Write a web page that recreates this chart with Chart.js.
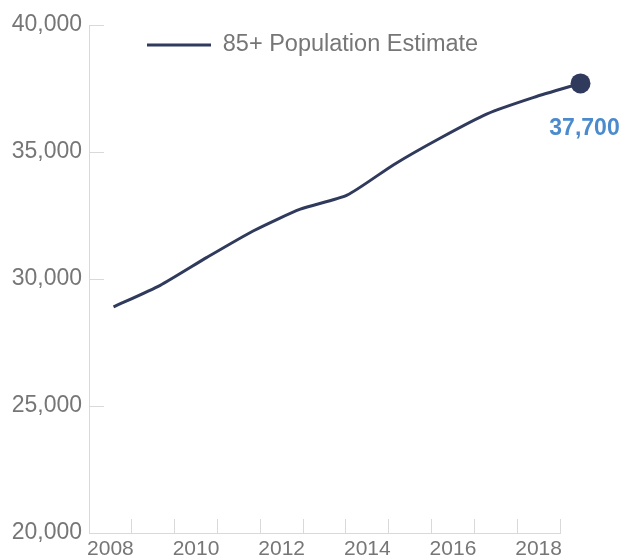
<!DOCTYPE html>
<html lang="en">
<head>
  <meta charset="UTF-8">
  <title>85+ Population Estimate</title>
  <script src="https://cdn.jsdelivr.net/npm/chart.js"></script>
  <style>
    body {
      margin: 0;
      padding: 0;
      background: #fff;
    }
    .wrap {
      width: 623px;
      height: 559px;
      position: relative;
    }
  </style>
</head>
<body>
  <div class="wrap">
    <canvas id="pop-chart"></canvas>
  </div>

  <script>
    // Axis labels (one category per year)
    const yearLabels = ['2008', '2009', '2010', '2011', '2012', '2013', '2014', '2015', '2016', '2017', '2018'];
    // Years of the estimates
    const pointYears = [2008, 2009, 2010, 2011, 2012, 2013, 2014, 2015, 2016, 2017, 2018];
    // 85+ population estimates
    const popValues = [28900, 29750, 30850, 31900, 32750, 33300, 34500, 35550, 36500, 37150, 37700];
    const yTicks = [20000, 25000, 30000, 35000, 40000];

    const navy = '#2f3a5c';
    const axisGray = '#d9d9d9';
    const textGray = '#767676';
    const lastIdx = popValues.length - 1;

    Chart.defaults.font.family = '"Liberation Sans", Arial, sans-serif';

    // legend sits inside the plot, near the top left
    const legendPlace = {
      id: 'legendPlace',
      afterLayout(chart) {
        const lg = chart.legend;
        const w = lg.width, h = lg.height;
        lg.left = 137;
        lg.top = 23.25;
        lg.right = lg.left + w;
        lg.bottom = lg.top + h;
      }
    };

    // value label under the last point
    const lastLabel = {
      id: 'lastLabel',
      afterDatasetsDraw(chart) {
        const pt = chart.getDatasetMeta(0).data[lastIdx];
        const ctx = chart.ctx;
        ctx.save();
        ctx.font = 'bold 23px "Liberation Sans", Arial, sans-serif';
        ctx.fillStyle = '#4a8acd';
        ctx.textAlign = 'center';
        ctx.textBaseline = 'middle';
        ctx.fillText(popValues[lastIdx].toLocaleString('en-US'), pt.x + 4, pt.y + 45);
        ctx.restore();
      }
    };

    new Chart(document.getElementById('pop-chart'), {
      type: 'line',
      data: {
        labels: yearLabels,
        datasets: [{
          label: '85+ Population Estimate',
          data: pointYears.map((yr, i) => ({ x: yr, y: popValues[i] })),
          xAxisID: 'xl',
          borderColor: navy,
          backgroundColor: navy,
          borderWidth: 3,
          tension: 0.2,
          clip: false,
          pointRadius: ctx => ctx.dataIndex === lastIdx ? 10 : 0,
          pointBackgroundColor: navy,
          // wide transparent border so the end marker still draws past the right edge
          pointBorderWidth: ctx => ctx.dataIndex === lastIdx ? 12 : 0,
          pointBorderColor: 'rgba(0,0,0,0)'
        }]
      },
      options: {
        responsive: true,
        maintainAspectRatio: false,
        animation: false,
        events: [],
        layout: {
          autoPadding: false,
          padding: { top: 25, right: 63, bottom: 0, left: 0 }
        },
        plugins: {
          legend: {
            position: 'chartArea',
            align: 'start',
            labels: {
              boxWidth: 64,
              boxHeight: 3,
              padding: 10,
              color: textGray,
              font: { size: 23.5 },
              generateLabels: chart => Chart.defaults.plugins.legend.labels.generateLabels(chart)
                .map(item => Object.assign(item, { lineWidth: 0, fillStyle: navy }))
            }
          },
          tooltip: { enabled: false }
        },
        scales: {
          x: {
            type: 'category',
            position: 'bottom',
            offset: true,
            grid: {
              offset: true,
              drawOnChartArea: false,
              tickLength: -14,
              color: axisGray
            },
            border: { color: axisGray },
            ticks: {
              autoSkip: false,
              maxRotation: 0,
              padding: 18,
              color: textGray,
              font: { size: 21 },
              callback: (val, i) => i % 2 === 0 ? yearLabels[i] : ''
            },
            afterFit: s => { s.height = 26; s.paddingLeft = 0; s.paddingRight = 0; }
          },
          xl: {
            type: 'linear',
            display: false,
            min: 2007.475,
            max: 2017.561
          },
          y: {
            min: yTicks[0],
            max: yTicks[yTicks.length - 1],
            afterBuildTicks: s => { s.ticks = yTicks.map(v => ({ value: v })); },
            grid: {
              drawOnChartArea: false,
              tickLength: -15,
              color: axisGray
            },
            border: { color: axisGray },
            ticks: {
              padding: 22,
              color: textGray,
              font: { size: 23 },
              callback: v => v.toLocaleString('en-US')
            },
            afterFit: s => { s.width = 89; s.paddingTop = 0; s.paddingBottom = 0; }
          }
        }
      },
      plugins: [legendPlace, lastLabel]
    });
  </script>
</body>
</html>
